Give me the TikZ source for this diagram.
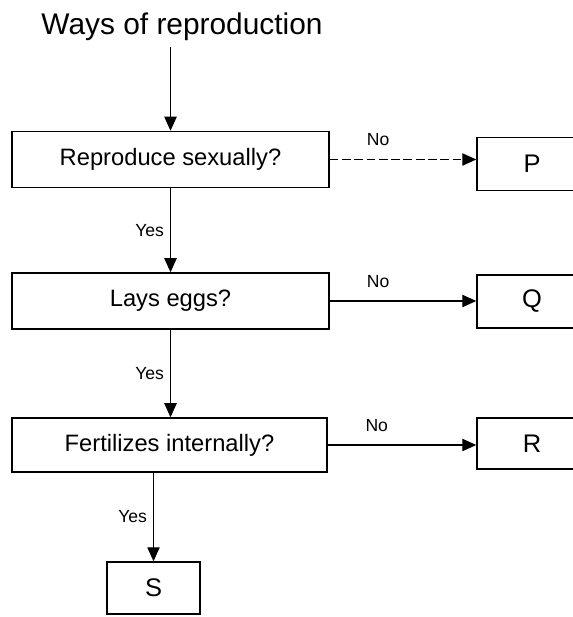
\documentclass[tikz,border=0pt]{standalone}
\usepackage{fontspec}
\setmainfont{Liberation Sans}
\usetikzlibrary{arrows.meta}

\begin{document}
\begin{tikzpicture}[x=0.02cm,y=-0.02cm,line width=0.8pt,
  >={Triangle[length=8pt,width=7pt]},
  qbox/.style={draw,minimum width=6.34cm,minimum height=1.12cm,font=\fontsize{13.5}{16}\selectfont},
  abox/.style={draw,minimum width=2.2cm,minimum height=1.06cm,font=\fontsize{14.5}{16}\selectfont},
  yes/.style={midway,left,font=\fontsize{10}{12}\selectfont},
  no/.style={pos=0.33,above=4pt,font=\fontsize{10}{12}\selectfont}]

\useasboundingbox (0,0) rectangle (573,617);

\node (title) at (182,27) {\fontsize{17}{20}\selectfont Ways of reproduction};

\node[qbox] (sex) at (170.5,159.5) {Reproduce sexually?};
\node[qbox] (eggs) at (170.5,301) {Lays eggs?};
\node[qbox,minimum width=6.3cm,minimum height=1.08cm] (fert) at (169.5,445) {Fertilizes internally?};

\node[abox] (P) at (532,164) {P};
\node[abox] (Q) at (532,301.5) {Q};
\node[abox,minimum height=1.02cm] (R) at (532,443.5) {R};
\node[abox,minimum width=1.86cm,minimum height=1.04cm] (S) at (153.5,588) {S};

\draw[->] (title.south -| sex.north) -- (sex.north);

\draw[->] (sex.south) -- (eggs.north) node[yes]{Yes};
\draw[->] (eggs.south) -- (eggs.south |- fert.north) node[yes]{Yes};
\draw[->] (fert.south -| S.north) -- (S.north) node[yes]{Yes};

\draw[->,dash pattern=on 5pt off 2pt] (sex.east) -- (sex.east -| P.west) node[no]{No};
\draw[->] (eggs.east) -- (eggs.east -| Q.west) node[no]{No};
\draw[->] (fert.east) -- (fert.east -| R.west) node[no]{No};

\end{tikzpicture}
\end{document}
